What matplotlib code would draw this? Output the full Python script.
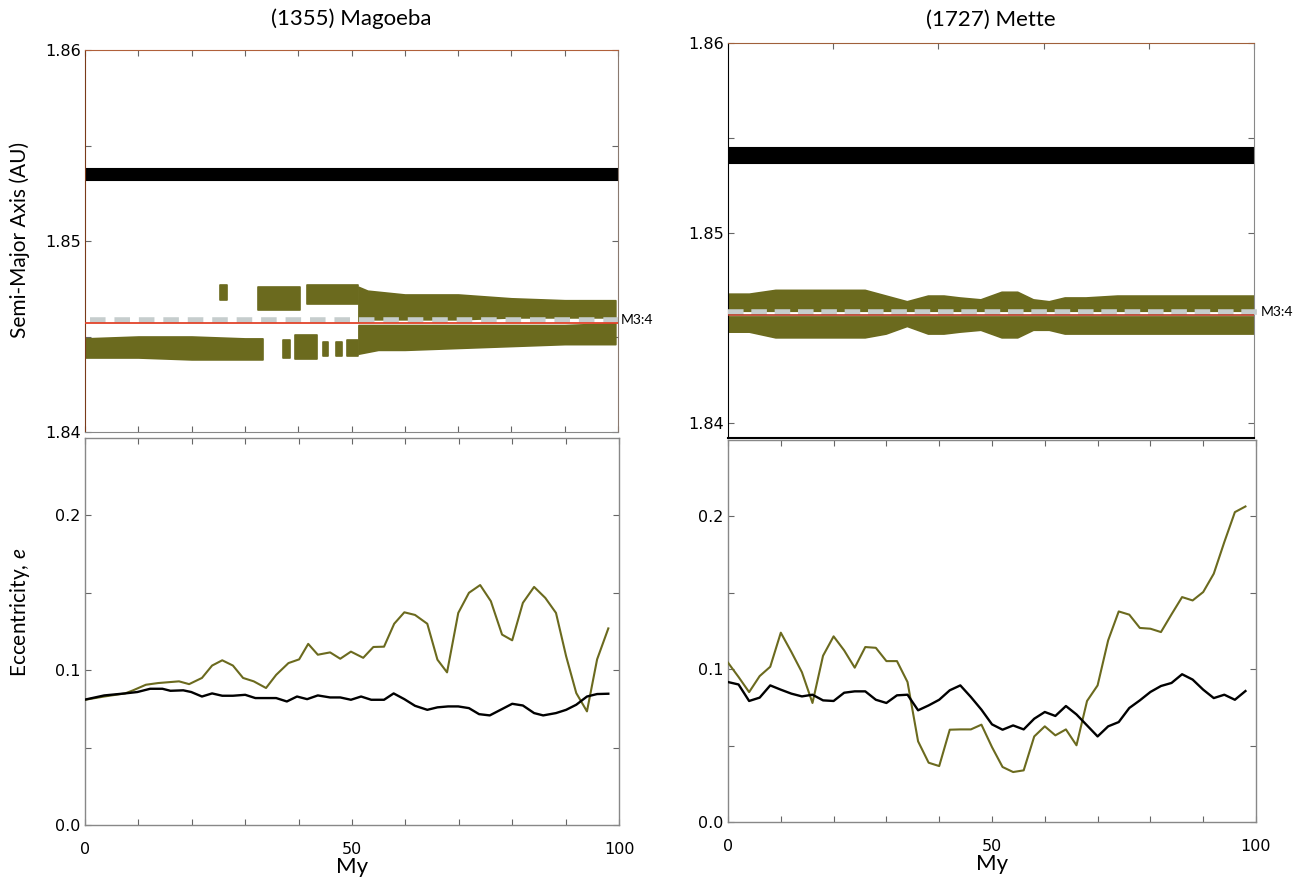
import matplotlib
matplotlib.use("Agg")
import matplotlib.pyplot as plt
from matplotlib import font_manager

# ---------------- data ----------------
titles = ["(1355) Magoeba", "(1727) Mette"]
resonance_label = "M3:4"

# semi-major axis: resonance centre and asteroid reference level (AU)
mag_res_a = 1.84587
mag_red_a = 1.84570
met_res_a = 1.84584
met_red_a = 1.84568

# black (comparison body) band, lower/upper edge (AU)
mag_black_t = [0, 100]
mag_black_lo = [1.85318, 1.85318]
mag_black_hi = [1.85376, 1.85376]
met_black_t = [0, 100]
met_black_lo = [1.85370, 1.85370]
met_black_hi = [1.85445, 1.85445]

# Magoeba green clouds
mag_lowA_t = [0, 10, 20, 30, 33.3]
mag_lowA_lo = [1.8439, 1.8439, 1.8438, 1.8438, 1.8438]
mag_lowA_hi = [1.8449, 1.8450, 1.8450, 1.8449, 1.8449]

mag_blob_t = [[25.4, 26.6], [32.5, 40.3], [41.7, 51.3],
              [37.2, 38.5], [39.4, 43.5], [44.7, 45.6], [47.0, 48.2], [49.2, 51.3]]
mag_blob_lo = [1.8469, 1.8464, 1.8467, 1.8439, 1.8438, 1.8440, 1.8440, 1.8440]
mag_blob_hi = [1.8477, 1.8476, 1.8477, 1.8448, 1.8451, 1.8447, 1.8447, 1.8448]

mag_upE_t = [51.3, 53, 60, 70, 80, 90, 99.5]
mag_upE_lo = [1.8458, 1.8459, 1.8459, 1.8459, 1.8460, 1.8460, 1.8460]
mag_upE_hi = [1.8476, 1.8474, 1.8472, 1.8472, 1.8470, 1.8469, 1.8469]

mag_lowF_t = [51.3, 55, 60, 70, 80, 90, 99.5]
mag_lowF_lo = [1.8441, 1.8443, 1.8443, 1.8444, 1.8445, 1.8446, 1.8446]
mag_lowF_hi = [1.8456, 1.8456, 1.8456, 1.8456, 1.8456, 1.8456, 1.8457]

# Mette green cloud: upper and lower lobes
met_t = [0, 4, 9, 14, 20, 26, 30, 34, 38, 41, 44, 48, 52, 55, 58, 61, 64, 68, 74, 80, 86, 92, 100]
met_up_hi = [1.8468, 1.8468, 1.8470, 1.8470, 1.8470, 1.8470, 1.8467, 1.8464, 1.8467, 1.8467,
             1.8466, 1.8465, 1.8469, 1.8469, 1.8465, 1.8464, 1.8466, 1.8466, 1.8467, 1.8467,
             1.8467, 1.8467, 1.8467]
met_up_lo = [1.8459] * 23
met_lo_hi = [1.8456] * 23
met_lo_lo = [1.8448, 1.8448, 1.8445, 1.8445, 1.8445, 1.8445, 1.8447, 1.8451, 1.8447, 1.8447,
             1.8448, 1.8449, 1.8445, 1.8445, 1.8449, 1.8449, 1.8447, 1.8447, 1.8447, 1.8447,
             1.8447, 1.8447, 1.8447]

# eccentricity
mag_green_t = [0, 3.6, 7.5, 9, 11.4, 13.7, 17.6, 19.5, 21.9, 23.8, 25.7, 27.7, 29.6, 31.6, 33.9,
               35.8, 38.1, 40.1, 41.8, 43.6, 45.9, 47.8, 49.8, 52.1, 54.0, 56.0, 57.9, 59.8, 61.8,
               64.1, 66.0, 67.8, 69.9, 71.9, 74.0, 76.0, 78.1, 80.0, 82.0, 84.1, 86.2, 88.2, 90.1,
               92.0, 94.0, 95.9, 98.0]
mag_green_e = [0.0809, 0.083, 0.085, 0.087, 0.0906, 0.0917, 0.0928, 0.091, 0.095, 0.103, 0.1064,
               0.103, 0.095, 0.0928, 0.0885, 0.097, 0.1046, 0.107, 0.117, 0.110, 0.1115, 0.1074,
               0.112, 0.108, 0.115, 0.1152, 0.130, 0.1374, 0.1357, 0.130, 0.1068, 0.0986, 0.137,
               0.150, 0.155, 0.1446, 0.123, 0.1193, 0.1435, 0.1538, 0.1467, 0.137, 0.109, 0.0852,
               0.0734, 0.107, 0.127]
mag_black_et = [0, 3.6, 7.5, 9.8, 12.2, 14.5, 16, 18.4, 19.9, 21.9, 23.8, 25.7, 27.7, 30.0, 31.9,
                35.8, 37.8, 39.7, 41.6, 43.6, 45.9, 47.8, 49.8, 51.7, 53.6, 56.0, 57.8, 59.8, 61.8,
                64.1, 66.0, 68.0, 69.9, 71.9, 73.8, 75.8, 78.1, 80.0, 82.0, 84.1, 85.8, 88.2, 90.1,
                92.0, 94.0, 95.9, 98.0]
mag_black_e = [0.081, 0.0837, 0.085, 0.0859, 0.088, 0.088, 0.0867, 0.087, 0.0859, 0.083, 0.085,
               0.0835, 0.0835, 0.0841, 0.082, 0.082, 0.0798, 0.083, 0.0813, 0.0837, 0.0824, 0.0824,
               0.0809, 0.083, 0.0809, 0.0809, 0.085, 0.0813, 0.077, 0.0744, 0.076, 0.0766, 0.0766,
               0.0755, 0.0716, 0.0708, 0.0749, 0.0783, 0.0772, 0.0723, 0.0708, 0.0723, 0.0744,
               0.0777, 0.083, 0.0846, 0.0848]

met_et = [0, 2, 4, 6, 8, 10, 12, 14, 16, 18, 20, 22, 24, 26, 28, 30, 32, 34, 36, 38, 40, 42, 44,
          46, 48, 50, 52, 54, 56, 58, 60, 62, 64, 66, 68, 70, 72, 74, 76, 78, 80, 82, 84, 86, 88,
          90, 92, 94, 96, 98]
met_green_e = [0.1043, 0.0949, 0.085, 0.0955, 0.1016, 0.1239, 0.1113, 0.098, 0.0779, 0.1088,
               0.1215, 0.1123, 0.101, 0.1145, 0.114, 0.1053, 0.1053, 0.0916, 0.0528, 0.0388,
               0.0366, 0.0604, 0.0606, 0.0606, 0.0637, 0.049, 0.036, 0.0327, 0.0338, 0.056,
               0.0626, 0.0567, 0.0606, 0.0502, 0.0792, 0.0894, 0.1189, 0.1378, 0.1357, 0.127,
               0.1265, 0.1243, 0.1359, 0.1472, 0.145, 0.1505, 0.1625, 0.1832, 0.2028, 0.2065]
met_black_e = [0.0916, 0.090, 0.0792, 0.0814, 0.0894, 0.0866, 0.084, 0.0822, 0.0833, 0.0796,
               0.0792, 0.0846, 0.0855, 0.0855, 0.08, 0.0779, 0.0829, 0.0833, 0.0731, 0.0763,
               0.08, 0.0862, 0.0894, 0.0818, 0.0735, 0.0639, 0.0604, 0.0632, 0.0606, 0.0676,
               0.072, 0.0694, 0.0759, 0.0704, 0.0632, 0.056, 0.0626, 0.0654, 0.0746, 0.0796,
               0.0851, 0.089, 0.091, 0.0967, 0.0932, 0.0866, 0.0811, 0.0833, 0.08, 0.0857]

a_ticks = [1.84, 1.845, 1.85, 1.855, 1.86]
a_ticklabels = ["1.84", "", "1.85", "", "1.86"]
e_ticks = [0.0, 0.05, 0.1, 0.15, 0.2]
e_ticklabels = ["0.0", "", "0.1", "", "0.2"]
x_ticks = [0, 10, 20, 30, 40, 50, 60, 70, 80, 90, 100]
x_ticklabels = ["0", "", "", "", "", "50", "", "", "", "", "100"]

# ---------------- style ----------------
avail = {f.name for f in font_manager.fontManager.ttflist}
narrow = "Liberation Sans Narrow" if "Liberation Sans Narrow" in avail else "DejaVu Sans"
labfont = ["Lato", "DejaVu Sans"]
plt.rcParams["mathtext.fontset"] = "custom"
plt.rcParams["mathtext.it"] = "Lato:italic"

GREEN = "#6b6a1e"
GREY = "#c6cdcd"
RED = "#e2432a"

fig = plt.figure(figsize=(13.05, 8.86), dpi=100)
W, H = 1305, 886


def add_ax(x0, y0, x1, y1):
    return fig.add_axes([x0 / W, 1 - y1 / H, (x1 - x0) / W, (y1 - y0) / H])


ax_tl = add_ax(85, 50, 618, 432)
ax_bl = add_ax(85, 438, 619, 825)
ax_tr = add_ax(728, 43, 1254, 438)
ax_br = add_ax(728, 440, 1256, 822)


def style_common(ax):
    ax.tick_params(direction="in", length=4, width=0.8, color="#666666",
                   top=True, right=True, labelsize=11.5, pad=3)
    for lab in ax.get_xticklabels() + ax.get_yticklabels():
        lab.set_fontfamily(narrow)


def band(ax, t, lo, hi):
    ax.fill_between(t, lo, hi, color=GREEN, lw=1.2, edgecolor=GREEN, zorder=2)


# ---- top-left: Magoeba semi-major axis ----
ax = ax_tl
ax.fill_between(mag_black_t, mag_black_lo, mag_black_hi, color="black", lw=1.5,
                edgecolor="black", zorder=2)
band(ax, mag_lowA_t, mag_lowA_lo, mag_lowA_hi)
for (t0, t1), lo, hi in zip(mag_blob_t, mag_blob_lo, mag_blob_hi):
    band(ax, [t0, t1], [lo, lo], [hi, hi])
band(ax, mag_upE_t, mag_upE_lo, mag_upE_hi)
band(ax, mag_lowF_t, mag_lowF_lo, mag_lowF_hi)
ax.plot([1, 100], [mag_res_a, mag_res_a], color=GREY, lw=4.0, dashes=(2.8, 1.6), zorder=4)
ax.plot([0, 100], [mag_red_a, mag_red_a], color=RED, lw=1.3, zorder=5)
ax.text(100.6, mag_res_a, resonance_label, fontsize=10, family=labfont, va="center",
        ha="left", clip_on=False)
ax.set_xlim(0, 100)
ax.set_ylim(1.84, 1.86)
ax.set_yticks(a_ticks)
ax.set_yticklabels(a_ticklabels)
ax.set_xticks(x_ticks)
ax.set_xticklabels([])
ax.set_title(titles[0], fontsize=16, family=labfont, pad=18)
style_common(ax)
ax.tick_params(labelbottom=False)
ax.spines["left"].set_color("#7a3a1a")
ax.spines["top"].set_color("#b0603a")
ax.spines["right"].set_color("#8a7a70")
ax.spines["bottom"].set_color("#888888")
fig.text(20 / W, 1 - 240 / H, "Semi-Major Axis (AU)", rotation=90, fontsize=15,
         family=labfont, ha="center", va="center")

# ---- top-right: Mette semi-major axis ----
ax = ax_tr
ax.fill_between(met_black_t, met_black_lo, met_black_hi, color="black", lw=1.5,
                edgecolor="black", zorder=2)
band(ax, met_t, met_up_lo, met_up_hi)
band(ax, met_t, met_lo_lo, met_lo_hi)
ax.plot([0, 100.5], [met_res_a, met_res_a], color=GREY, lw=4.0, dashes=(2.8, 1.4), zorder=4,
        clip_on=False)
ax.plot([0, 100], [met_red_a, met_red_a], color="#b83a22", lw=1.2, zorder=5)
ax.text(101.2, met_res_a, resonance_label, fontsize=10, family=labfont, va="center",
        ha="left", clip_on=False)
ax.set_xlim(0, 100)
ax.set_ylim(1.8392, 1.86)
ax.set_yticks(a_ticks)
ax.set_yticklabels(a_ticklabels)
ax.set_xticks([0, 20, 40, 60, 80, 100])
ax.set_xticklabels([])
ax.set_title(titles[1], fontsize=16, family=labfont, pad=12)
style_common(ax)
ax.tick_params(bottom=False, labelbottom=False)
ax.spines["left"].set_color("black")
ax.spines["top"].set_color("#a0603a")
ax.spines["right"].set_color("#888888")
ax.spines["bottom"].set_color("black")
ax.spines["bottom"].set_linewidth(1.5)

# ---- bottom panels: eccentricity ----
for ax, gt, ge, bt, be in [(ax_bl, mag_green_t, mag_green_e, mag_black_et, mag_black_e),
                           (ax_br, met_et, met_green_e, met_et, met_black_e)]:
    ax.plot(gt, ge, color=GREEN, lw=1.5, zorder=3)
    ax.plot(bt, be, color="black", lw=1.7, zorder=3)
    ax.set_xlim(0, 100)
    ax.set_ylim(0, 0.25)
    ax.set_yticks(e_ticks)
    ax.set_yticklabels(e_ticklabels)
    ax.set_xticks(x_ticks)
    ax.set_xticklabels(x_ticklabels)
    ax.set_xlabel("My", fontsize=16, family=labfont, labelpad=0)
    style_common(ax)
    ax.tick_params(axis="x", pad=12)
    for s in ax.spines.values():
        s.set_color("#888888")
        s.set_linewidth(1.0)

fig.text(20 / W, 1 - 612 / H, "Eccentricity, $e$", rotation=90, fontsize=15,
         family=labfont, ha="center", va="center")

fig.savefig("out.png", dpi=100)
